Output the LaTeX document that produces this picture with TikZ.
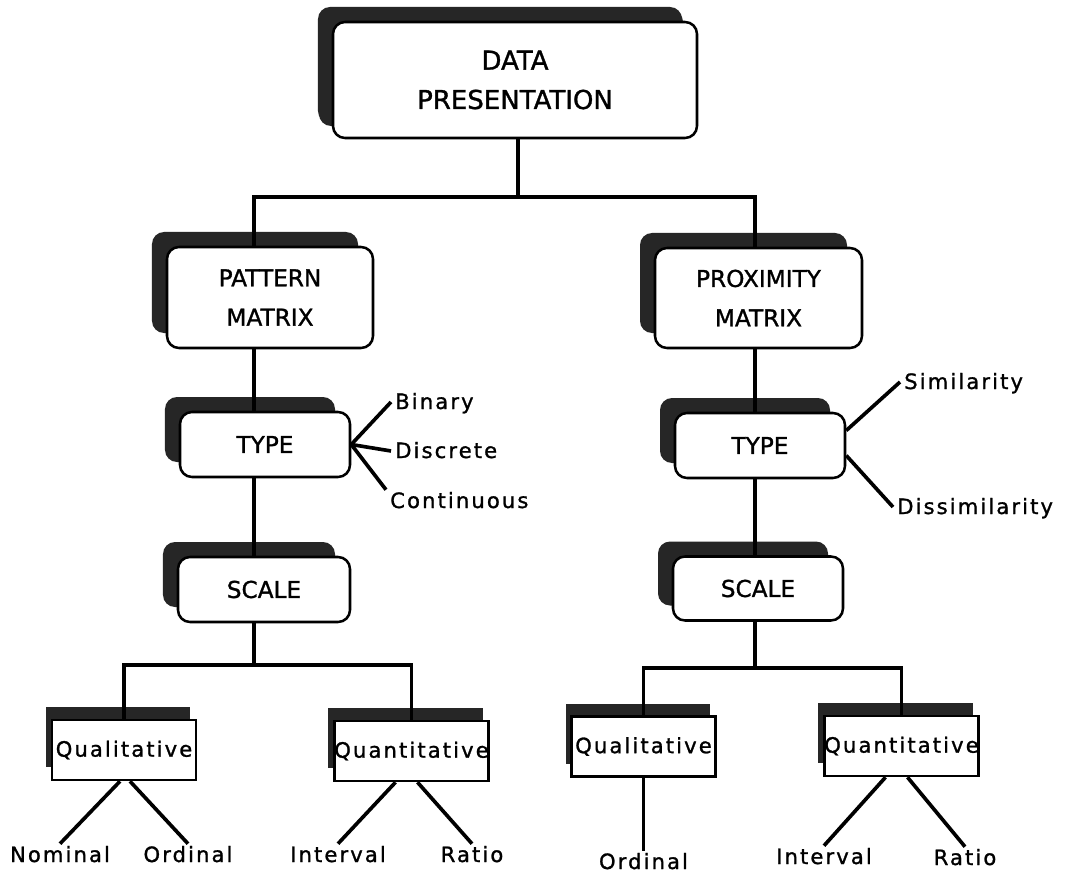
\documentclass[tikz,border=0pt]{standalone}
\usepackage{fontspec}
\setmainfont{DejaVu Sans}[FakeBold=1.2]
\newfontfamily\leaffont{DejaVu Sans}[LetterSpace=10, FakeBold=1.2]
\usepackage{tikz}
\usetikzlibrary{positioning,shadows,calc}

\tikzset{
  block/.style={draw, line width=1.8pt, rounded corners=3mm, fill=white, align=center, inner sep=0pt,
    drop shadow={shadow xshift=-3.75mm, shadow yshift=3.75mm, opacity=1, fill=black!85}},
  kindbox/.style={draw, line width=1.8pt, fill=white, inner sep=0pt, minimum width=36mm, minimum height=15mm,
    font=\leaffont\fontsize{15}{17}\selectfont,
    drop shadow={shadow xshift=-1.5mm, shadow yshift=3.25mm, opacity=1, fill=black!85}},
  leaf/.style={inner sep=1mm, text height=3.5mm, text depth=0pt, font=\leaffont\fontsize{15}{17}\selectfont},
  link/.style={line width=2.6pt},
}

\begin{document}
\begin{tikzpicture}[x=0.25mm, y=-0.25mm]
        \path[use as bounding box, fill=white] (0,0) rectangle (1074,878);

        \node[block, minimum width=91mm, minimum height=29mm, font=\fontsize{18.5}{28}\selectfont,
          drop shadow={shadow xshift=-3.5mm, shadow yshift=3mm, opacity=1, fill=black!85}]
          (top) at (515, 80) {DATA\\PRESENTATION};
        \node[block, minimum width=51.5mm, minimum height=25.25mm, font=\fontsize{16.5}{28}\selectfont]
          (pat) at (270, 297.5) {PATTERN\\MATRIX};
        \node[block, minimum width=51.75mm, minimum height=25mm, font=\fontsize{16.5}{28}\selectfont]
          (prox) at (758.5, 298) {PROXIMITY\\MATRIX};
        \node[block, minimum width=42.5mm, minimum height=16.25mm, font=\fontsize{16.5}{19}\selectfont]
          (typ1) at (265, 444.5) {TYPE};
        \node[block, minimum width=42.5mm, minimum height=16.25mm, font=\fontsize{16.5}{19}\selectfont]
          (typ2) at (760, 445.5) {TYPE};
        \node[block, minimum width=43mm, minimum height=16.25mm, font=\fontsize{16.5}{19}\selectfont]
          (scl1) at (264, 589.5) {SCALE};
        \node[block, minimum width=42.5mm, minimum height=16mm, font=\fontsize{16.5}{19}\selectfont]
          (scl2) at (758, 588.5) {SCALE};

        \node[kindbox] (ql1) at (124, 750) {Qualitative};
        \node[kindbox] (qn1) at (411.5, 751) {Quantitative};
        \node[kindbox] (ql2) at (643.5, 746.5) {Qualitative};
        \node[kindbox] (qn2) at (901.5, 746) {Quantitative};

        \node[leaf, anchor=west] (bin) at (391, 402) {Binary};
        \node[leaf, anchor=west] (dis) at (391, 451) {Discrete};
        \node[leaf, anchor=west] (con) at (386, 501) {Continuous};
        \node[leaf, anchor=west] (sim) at (900, 382) {Similarity};
        \node[leaf, anchor=west] (dsim) at (893, 507) {Dissimilarity};

        \node[leaf] (nom1) at (60, 855) {Nominal};
        \node[leaf] (ord1) at (188, 855) {Ordinal};
        \node[leaf] (int1) at (338, 855) {Interval};
        \node[leaf] (rat1) at (472, 855) {Ratio};
        \node[leaf] (ord2) at (643.5, 862) {Ordinal};
        \node[leaf] (int2) at (824, 857) {Interval};
        \node[leaf] (rat2) at (965, 858) {Ratio};

        \coordinate (lc) at (254, 0);
        \coordinate (rc) at (755, 0);
        \coordinate (tj) at (518, 197);
        \coordinate (lj) at (254, 665);
        \coordinate (rj) at (755, 668);

        % Rami dalla radice
        \draw[link] (top.south -| tj) -- (tj);
        \draw[link] (pat.north -| lc) |- (tj) -| (prox.north -| rc);

        % Colonna sinistra
        \draw[link] (pat.south -| lc) -- (typ1.north -| lc);
        \draw[link] (typ1.south -| lc) -- (scl1.north -| lc);
        \draw[link] (scl1.south -| lc) -- (lj);
        \draw[link] (ql1.north) |- (lj) -| (qn1.north);

        % Colonna destra
        \draw[link] (prox.south -| rc) -- (typ2.north -| rc);
        \draw[link] (typ2.south -| rc) -- (scl2.north -| rc);
        \draw[link] (scl2.south -| rc) -- (rj);
        \draw[link] (ql2.north) |- (rj) -| (qn2.north);

        % Tipi
        \draw[link] (typ1.east) -- (bin.west);
        \draw[link] (typ1.east) -- (dis.west);
        \draw[link] (typ1.east) -- (con.north west);
        \draw[link] ([yshift=3.75mm]typ2.east) -- (sim.west);
        \draw[link] ([yshift=-2.5mm]typ2.east) -- (dsim.west);

        % Scale di misura
        \draw[link] ([xshift=-1mm]ql1.south) -- (nom1.north);
        \draw[link] ([xshift=1.5mm]ql1.south) -- (ord1.north);
        \draw[link] ([xshift=-4mm]qn1.south) -- (int1.north);
        \draw[link] ([xshift=1.5mm]qn1.south) -- (rat1.north);
        \draw[link] (ql2.south) -- (ord2.north);
        \draw[link] ([xshift=-4mm]qn2.south) -- (int2.north);
        \draw[link] ([xshift=1.5mm]qn2.south) -- (rat2.north);
    \end{tikzpicture}
\end{document}
